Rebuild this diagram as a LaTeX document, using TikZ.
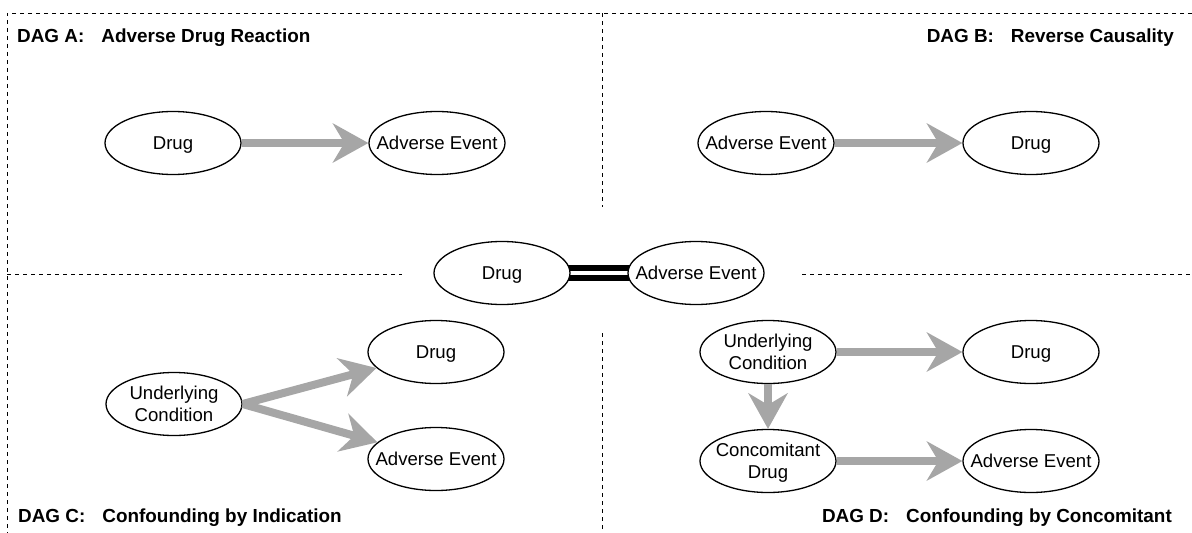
\documentclass[tikz,border=0pt]{standalone}
\usepackage{fontspec}
\setmainfont{Liberation Sans}
\usetikzlibrary{shapes.geometric,arrows.meta,backgrounds}
\definecolor{arrgray}{HTML}{A6A6A6}
\newcommand\mystrut{\rule[-5pt]{0pt}{23.4pt}}
\newcommand\topstrut{\rule{0pt}{18.4pt}}
\newcommand\botstrut{\rule[-5pt]{0pt}{5pt}}
\begin{document}
\begin{tikzpicture}[x=1pt,y=-1pt,
  el/.style={ellipse, draw=black, line width=1.3pt, fill=white,
    minimum width=136pt, minimum height=63pt, inner sep=0pt},
  lab/.style={font=\fontsize{18.6}{21.5}\selectfont, align=center, inner sep=0pt},
  ttl/.style={font=\fontsize{18.9}{21}\selectfont\bfseries, inner sep=0pt},
  arr/.style={draw=arrgray, line width=8pt,
    -{Stealth[length=36pt, width=40pt, inset=12pt, line width=0pt, fill=arrgray]}},
  sep/.style={dash pattern=on 4pt off 4pt, line width=1pt, black}
]
\useasboundingbox (0,0) rectangle (1192,533);
% separators
\draw[sep] (1192,13) -- (7,13) -- (7,533);
\draw[sep] (602,13) -- (602,207);
\draw[sep] (602,333) -- (602,533);
\draw[sep] (7,274) -- (402,274);
\draw[sep] (802,274) -- (1192,274);

% titles
\node[ttl, anchor=base west] (ta) at (17,42) {DAG A:\hspace{17pt}Adverse Drug Reaction};
\node[ttl, anchor=base east] (tb) at (1174,42) {DAG B:\hspace{17pt}Reverse Causality};
\node[ttl, anchor=base west] (tc) at (18,522) {DAG C:\hspace{17pt}Confounding by Indication};
\node[ttl, anchor=base east] (td) at (1172,522) {DAG D:\hspace{17pt}Confounding by Concomitant};

% DAG A
\node[el, label={[lab]center:\mystrut Drug}] (ad) at (173,143) {};
\node[el, label={[lab]center:\mystrut Adverse Event}] (aae) at (437,143) {};
\draw[arr] (ad.east) -- (aae.west);

% DAG B
\node[el, label={[lab]center:\mystrut Adverse Event}] (bae) at (766,143) {};
\node[el, label={[lab]center:\mystrut Drug}] (bd) at (1031,143) {};
\draw[arr] (bae.east) -- (bd.west);

% center
\node[el, label={[lab]center:\mystrut Drug}] (md) at (502,273) {};
\node[el, label={[lab]center:\mystrut Adverse Event}] (mae) at (696,273) {};
\begin{scope}[on background layer]
\draw[line width=5.5pt, black] ([shift={(-4,-5)}]md.east) -- ([shift={(4,-5)}]mae.west);
\draw[line width=5.5pt, black] ([shift={(-4,5)}]md.east) -- ([shift={(4,5)}]mae.west);
\end{scope}

% DAG C
\node[el, label={[lab]center:{\topstrut Underlying\\Condition\botstrut}}] (cu) at (174,404) {};
\node[el, label={[lab]center:\mystrut Drug}] (cd) at (436,352) {};
\node[el, label={[lab]center:\mystrut Adverse Event}] (cae) at (436,459) {};
\draw[arr] (cu.east) -- (cd);
\draw[arr] (cu.east) -- (cae);

% DAG D
\node[el, label={[lab]center:{\topstrut Underlying\\Condition\botstrut}}] (du) at (768,352) {};
\node[el, label={[lab]center:\mystrut Drug}] (dd) at (1031,352) {};
\node[el, label={[lab]center:{\topstrut Concomitant\\Drug\botstrut}}] (dc) at (768,461) {};
\node[el, label={[lab]center:\mystrut Adverse Event}] (dae) at (1031,461) {};
\draw[arr] (du.east) -- (dd.west);
\draw[arr] (du.south) -- (dc.north);
\draw[arr] (dc.east) -- (dae.west);
\end{tikzpicture}
\end{document}
